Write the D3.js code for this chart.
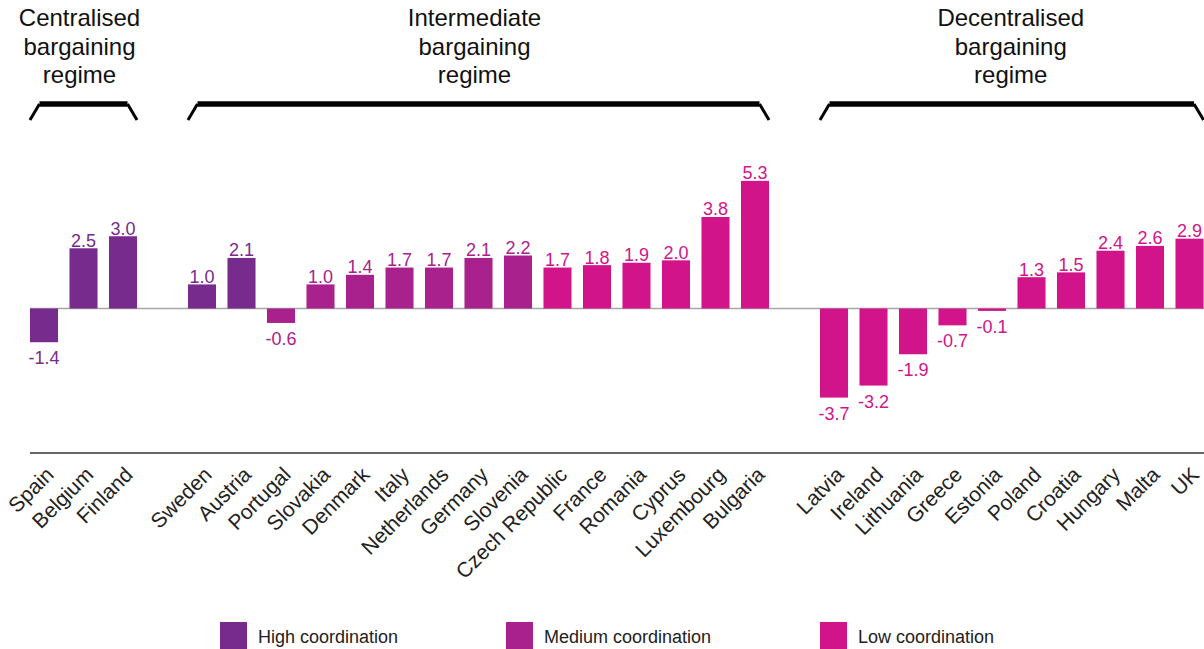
<!DOCTYPE html>
<html>
<head>
<meta charset="utf-8">
<script src="https://cdn.jsdelivr.net/npm/d3@7"></script>
<style>
  html, body { margin: 0; padding: 0; background: #fff; }
  svg { display: block; font-family: "Liberation Sans", Arial, sans-serif; }
</style>
</head>
<body>
<svg id="chart" width="1204" height="649"></svg>
<script>
// ---- data ----
const regimeTitles = [
  ["Centralised", "bargaining", "regime"],
  ["Intermediate", "bargaining", "regime"],
  ["Decentralised", "bargaining", "regime"]
];
const centralisedCountries = ["Spain", "Belgium", "Finland"];
const centralisedValues = [-1.4, 2.5, 3.0];
const centralisedCoord = ["High", "High", "High"];

const intermediateCountries = ["Sweden", "Austria", "Portugal", "Slovakia", "Denmark", "Italy", "Netherlands", "Germany", "Slovenia", "Czech Republic", "France", "Romania", "Cyprus", "Luxembourg", "Bulgaria"];
const intermediateValues = [1.0, 2.1, -0.6, 1.0, 1.4, 1.7, 1.7, 2.1, 2.2, 1.7, 1.8, 1.9, 2.0, 3.8, 5.3];
const intermediateCoord = ["High", "High", "Medium", "Medium", "Medium", "Medium", "Medium", "Medium", "Medium", "Low", "Low", "Low", "Low", "Low", "Low"];

const decentralisedCountries = ["Latvia", "Ireland", "Lithuania", "Greece", "Estonia", "Poland", "Croatia", "Hungary", "Malta", "UK"];
const decentralisedValues = [-3.7, -3.2, -1.9, -0.7, -0.1, 1.3, 1.5, 2.4, 2.6, 2.9];
const decentralisedCoord = ["Low", "Low", "Low", "Low", "Low", "Low", "Low", "Low", "Low", "Low"];

const legendLabels = ["High coordination", "Medium coordination", "Low coordination"];
const coordKeys = ["High", "Medium", "Low"];
const coordColors = ["#772b8c", "#a9218c", "#d1148a"];

// ---- build ----
const groupCountries = [centralisedCountries, intermediateCountries, decentralisedCountries];
const groupValues = [centralisedValues, intermediateValues, decentralisedValues];
const groupCoord = [centralisedCoord, intermediateCoord, decentralisedCoord];

const rows = [];
const slots = [];
groupCountries.forEach((cs, g) => {
  if (g > 0) slots.push("__gap" + g);
  cs.forEach((c, i) => {
    slots.push(c);
    rows.push({ country: c, value: groupValues[g][i], coord: groupCoord[g][i], group: g });
  });
});

const color = d3.scaleOrdinal().domain(coordKeys).range(coordColors);
const fmt = v => d3.format(".1f")(v).replace("\u2212", "-");

const svg = d3.select("#chart");
const x = d3.scaleBand().domain(slots).range([24.25, 24.25 + slots.length * 39.5])
  .paddingInner(0.29).paddingOuter(0.145);
const y = d3.scaleLinear().domain([-6, 6]).range([453, 164]);

const xLeft = x(slots[0]);

// zero line
svg.append("line")
  .attr("x1", xLeft).attr("x2", 1204)
  .attr("y1", y(0)).attr("y2", y(0))
  .attr("stroke", "#a6a6a6").attr("stroke-width", 1.6);

// bars
svg.append("g").selectAll("rect").data(rows).join("rect")
  .attr("x", d => x(d.country))
  .attr("width", x.bandwidth())
  .attr("y", d => y(Math.max(0, d.value)))
  .attr("height", d => Math.abs(y(d.value) - y(0)))
  .attr("fill", d => color(d.coord));

// value labels
svg.append("g").selectAll("text").data(rows).join("text")
  .attr("x", d => x(d.country) + x.bandwidth() / 2)
  .attr("y", d => d.value >= 0 ? y(d.value) - 1.5 : y(d.value) + 22)
  .attr("text-anchor", "middle")
  .attr("font-size", 18)
  .attr("fill", d => color(d.coord))
  .text(d => fmt(d.value));

// bottom axis line
svg.append("line")
  .attr("x1", xLeft).attr("x2", 1204)
  .attr("y1", y(-6)).attr("y2", y(-6))
  .attr("stroke", "#333").attr("stroke-width", 1.6);

// country labels
svg.append("g").selectAll("text").data(rows).join("text")
  .attr("transform", d => `translate(${x(d.country) + x.bandwidth() / 2 + 11},${y(-6) + 23}) rotate(-45)`)
  .attr("text-anchor", "end")
  .attr("font-size", 21)
  .attr("fill", "#222")
  .text(d => d.country);

// brackets + titles
const titleShift = [-4, -4, -1];
groupCountries.forEach((cs, g) => {
  const x0 = x(cs[0]);
  const x1 = x(cs[cs.length - 1]) + x.bandwidth();
  const yTop = 104, yBot = 120, leg = 9.5;
  const bg = svg.append("g");
  bg.append("line").attr("x1", x0 + leg).attr("x2", x1 - leg)
    .attr("y1", yTop).attr("y2", yTop)
    .attr("stroke", "#000").attr("stroke-width", 5.5);
  bg.append("path")
    .attr("d", `M${x0},${yBot} L${x0 + leg},${yTop} M${x1 - leg},${yTop} L${x1},${yBot}`)
    .attr("fill", "none").attr("stroke", "#000").attr("stroke-width", 3);
  const t = svg.append("text")
    .attr("text-anchor", "middle")
    .attr("font-size", 24)
    .attr("fill", "#111");
  regimeTitles[g].forEach((line, i) => {
    t.append("tspan").attr("x", (x0 + x1) / 2 + titleShift[g]).attr("y", 26 + i * 28.5).text(line);
  });
});

// legend
const legendX = [220, 506, 820];
const lg = svg.append("g").selectAll("g").data(legendLabels).join("g")
  .attr("transform", (d, i) => `translate(${legendX[i]},622)`);
lg.append("rect").attr("width", 27).attr("height", 27)
  .attr("fill", (d, i) => coordColors[i]);
lg.append("text").attr("x", 38).attr("y", 21)
  .attr("font-size", 18).attr("fill", "#222")
  .text(d => d);
</script>
</body>
</html>
